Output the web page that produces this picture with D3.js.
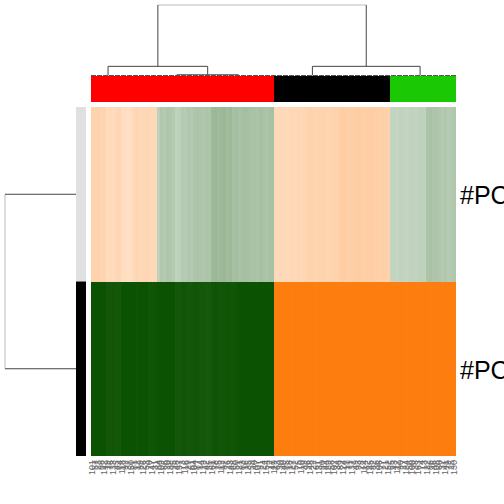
<!DOCTYPE html>
<html><head><meta charset="utf-8">
<script src="https://cdn.jsdelivr.net/npm/d3@7"></script>
<style>body{margin:0;background:#fff}svg{display:block}</style>
</head><body>
<script>
// ---- data ----
const rowNames = ["#PC1", "#PC2"];
const rowSideColors = ["#e0e0e0", "#000000"];
const groupNames = ["red", "black", "green"];
const groupColors = ["#ff0000", "#000000", "#1bc804"];
const groupSizes = [61, 39, 22];
const colLabels = ("101 57 23 88 142 19 76 133 45 64 118 92 37 150 81 12 99 126 53 70 " +
  "147 31 84 109 66 20 138 95 48 157 73 116 29 61 104 87 14 129 42 55 " +
  "161 78 35 112 97 26 143 68 50 121 83 16 135 59 40 107 91 24 154 72 " +
  "47 119 63 30 140 85 18 127 52 75 110 39 96 148 22 67 131 80 44 159 " +
  "58 102 34 89 124 15 71 137 49 93 28 114 62 145 82 36 106 77 21 152 " +
  "65 43 117 90 27 134 56 100 38 163 74 13 122 86 46 108 60 32 141 79 25 130").split(" ");
const row1 = [
  0.34,0.33,0.34,0.32,0.33, 0.27,0.28,0.27, 0.30,0.31, 0.25,0.26,0.24,0.26,
  0.30,0.31,0.29,0.30,0.31,0.30,0.29,0.30,
  -0.27, -0.32,-0.31,-0.33,-0.32,-0.31, -0.26,-0.27, -0.31,-0.30,-0.32,-0.31,
  -0.33,-0.34,-0.33,-0.32,-0.34,-0.33, -0.40,-0.41,-0.39,-0.40,-0.41,-0.38,-0.40,
  -0.36,-0.37,-0.35,-0.36,-0.37,-0.36,-0.35, -0.35,-0.34,-0.36,-0.35,-0.34,-0.35,-0.36,
  0.29,0.28,0.30,0.29,0.28,0.29,0.30,0.29,0.31,0.30,0.31,
  0.33,0.34,0.33,0.32,0.33,0.34,0.33,0.32,0.33,0.34,0.33,
  0.37,0.38,0.37,0.36,0.37,0.38,0.39,0.37,0.36,0.37,0.38,0.37,0.36,0.35,0.36,0.35,0.34,
  -0.24,-0.25,-0.24,-0.26,-0.25,-0.24,-0.25,-0.26,-0.25,-0.26,-0.27,-0.26,
  -0.34,-0.35,-0.33,-0.34,-0.32,-0.31,-0.32,-0.30,-0.31,-0.32
];
const row2 = [
  -0.99,-0.99,-0.99,-0.99,-0.99, -0.96,-0.96,-0.97,-0.96,-0.96,
  -0.99,-0.99,-0.99,-0.99,-0.99,-0.98,-0.99,-0.99,-0.99, -0.97,-0.97,-0.98,
  -0.99,-0.99,-0.99,-0.99,-0.99,-0.99, -0.96,-0.96,-0.97,-0.97,-0.96,-0.96,-0.97,-0.97,-0.96,-0.96,
  -0.95,-0.95, -0.97,-0.98,-0.97,-0.97,-0.97,-0.98,-0.97,-0.97,-0.98,
  -0.99,-0.99,-0.99,-0.99,-0.99,-0.99,-0.99,-0.99,-0.99,-0.99,-0.99,-0.99,
  0.99,0.99,0.99,0.99,0.99,0.99,0.98,0.99,0.99,0.99,0.99,0.99,0.99,0.99,0.98,0.99,0.99,0.99,0.99,0.99,
  0.99,0.99,0.99,0.99,0.98,0.99,0.99,0.99,0.99,0.99,0.99,0.99,0.98,0.99,0.99,0.99,0.99,0.99,0.99,
  0.99,0.98,0.99,0.99,0.99,0.98,0.99,0.99,0.99,0.98,0.99,0.99,0.99,0.98,0.99,0.99,0.99,0.98,0.99,0.99,0.99,0.99
];
const values = [row1, row2];
// column dendrogram: leaves given as leaf-index positions, h = merge height
const colTree = {h: 10, children: [
  {h: 1.3, children: [{p: 5.2, h: 0}, {h: 0.1, children: [{p: 28.2, h: 0}, {p: 48.8, h: 0}]}]},
  {h: 1.3, children: [{p: 73.5, h: 0}, {p: 109.5, h: 0}]}
]};
const rowTree = {h: 10, children: [{r: 0, h: 0}, {r: 1, h: 0}]};

// ---- drawing ----
const W = 504, H = 504;
const svg = d3.select("body").append("svg").attr("width", W).attr("height", H);
const nCol = row1.length;
const x = d3.scaleBand().domain(d3.range(nCol)).range([91, 456]);
const y = d3.scaleBand().domain(rowNames).range([107, 456]);
const color = d3.scaleLinear().domain([-1, 0, 1]).range(["#0a5000", "#ffffff", "#fd7c0c"]);

// heatmap cells
const cells = [];
values.forEach((row, ri) => row.forEach((v, ci) => cells.push({ri, ci, v})));
svg.append("g").selectAll("rect").data(cells).join("rect")
  .attr("x", d => x(d.ci)).attr("y", d => y(rowNames[d.ri]))
  .attr("width", x.bandwidth() + 0.4).attr("height", y.bandwidth())
  .attr("fill", d => color(d.v)).attr("shape-rendering", "crispEdges");

// column side colours
const colGroup = [];
groupSizes.forEach((s, gi) => { for (let k = 0; k < s; k++) colGroup.push(gi); });
svg.append("g").selectAll("rect").data(colGroup).join("rect")
  .attr("x", (d, i) => x(i)).attr("y", 76).attr("width", x.bandwidth() + 0.4).attr("height", 26)
  .attr("fill", d => groupColors[d]).attr("shape-rendering", "crispEdges");

// row side colours
svg.append("g").selectAll("rect").data(rowNames).join("rect")
  .attr("x", 76).attr("y", d => y(d)).attr("width", 10).attr("height", y.bandwidth())
  .attr("fill", (d, i) => rowSideColors[i]);

// row labels
svg.append("g").selectAll("text").data(rowNames).join("text")
  .attr("x", 460).attr("y", d => y(d) + y.bandwidth() / 2 + 10)
  .attr("font-family", "Liberation Sans, Arial, sans-serif").attr("font-size", 25)
  .attr("fill", "#000").text(d => d);

// column labels
svg.append("g").selectAll("text").data(colLabels).join("text")
  .attr("transform", (d, i) => `translate(${x(i) + x.bandwidth() / 2 + 2.5},460) rotate(-90)`)
  .attr("text-anchor", "end")
  .attr("font-family", "Liberation Sans, Arial, sans-serif").attr("font-size", 9)
  .attr("fill", "#666").text(d => d);

// dendrograms
const line = svg.append("g").attr("fill", "none").attr("stroke", "#444").attr("stroke-width", 1);
const hc = d3.scaleLinear().domain([0, 10]).range([75.5, 5]);
const px = p => x(0) + (p + 0.5) * x.step();
function drawCol(node) {
  if (!node.children) return px(node.p);
  const xs = node.children.map(drawCol);
  const yy = hc(node.h);
  line.append("path").attr("d", `M${xs[0]},${yy}H${xs[1]}`).attr("stroke", node.h > 5 ? "#bbb" : "#444");
  node.children.forEach((c, i) => line.append("path").attr("d", `M${xs[i]},${yy}V${hc(c.h)}`));
  return (xs[0] + xs[1]) / 2;
}
drawCol(colTree);
line.append("path").attr("d", `M${x(0)},75.5H${x(nCol - 1) + x.bandwidth()}`)
  .attr("stroke-dasharray", "5,1").attr("stroke", "#555");

const hr = d3.scaleLinear().domain([0, 10]).range([76, 5]);
function drawRow(node) {
  if (!node.children) return y(rowNames[node.r]) + y.bandwidth() / 2;
  const ys = node.children.map(drawRow);
  const xx = hr(node.h);
  line.append("path").attr("d", `M${xx},${ys[0]}V${ys[1]}`).attr("stroke", "#bbb");
  node.children.forEach((c, i) => line.append("path").attr("d", `M${xx},${ys[i]}H${hr(c.h)}`));
  return (ys[0] + ys[1]) / 2;
}
drawRow(rowTree);
</script>
</body></html>
